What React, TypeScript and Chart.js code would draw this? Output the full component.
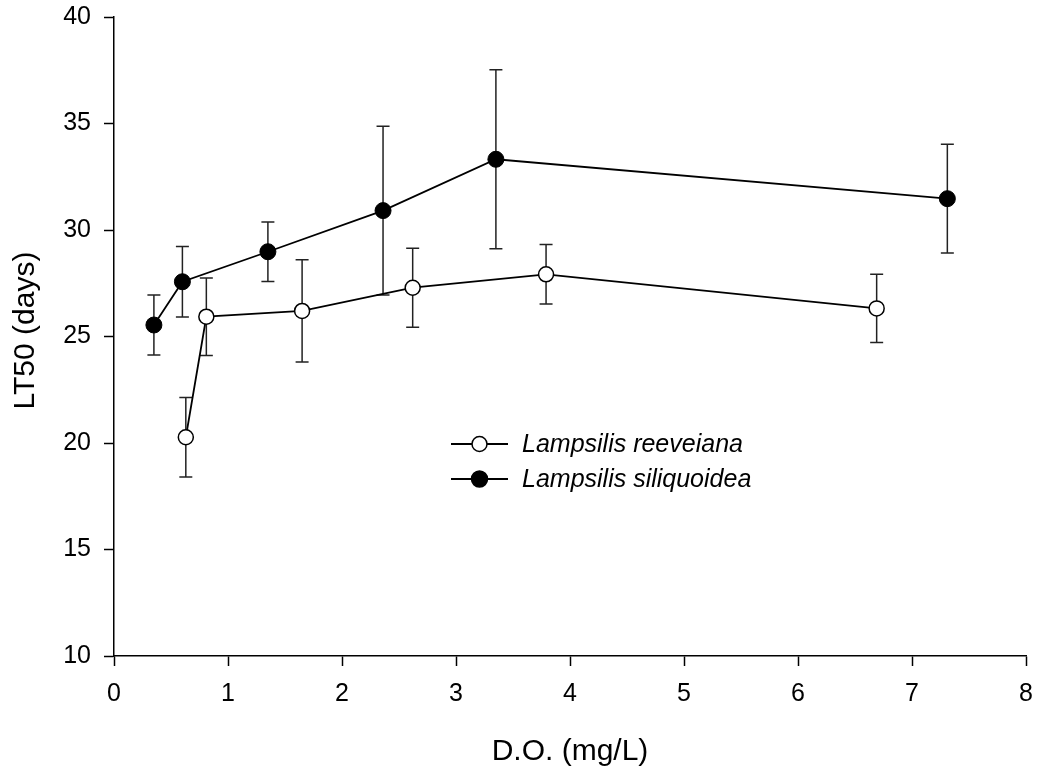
import React, { useEffect, useRef } from 'react';
import { Chart, registerables } from 'chart.js';

Chart.register(...registerables);

// ---- data ----
const seriesNames = ['Lampsilis reeveiana', 'Lampsilis siliquoidea'];
const reeveianaDO = [0.63, 0.81, 1.65, 2.62, 3.79, 6.69];
const reeveianaLT50 = [20.27, 25.93, 26.2, 27.29, 27.92, 26.32];
const reeveianaErr = [1.87, 1.82, 2.4, 1.85, 1.4, 1.6];
const siliquoideaDO = [0.35, 0.6, 1.35, 2.36, 3.35, 7.31];
const siliquoideaLT50 = [25.54, 27.57, 28.98, 30.91, 33.32, 31.47];
const siliquoideaErr = [1.41, 1.65, 1.4, 3.96, 4.2, 2.55];
const xTickValues = [0, 1, 2, 3, 4, 5, 6, 7, 8];
const yTickValues = [10, 15, 20, 25, 30, 35, 40];
const xTitle = 'D.O. (mg/L)';
const yTitle = 'LT50 (days)';

const FONT = '"Liberation Sans", Arial, Helvetica, sans-serif';

const errorBarPlugin = {
  id: 'errorBars',
  beforeDatasetsDraw(chart: any) {
    const { ctx, scales } = chart;
    const xs = scales.x;
    const ys = scales.y;
    chart.data.datasets.forEach((ds: any) => {
      const errs: number[] = ds.errors || [];
      ctx.save();
      ctx.strokeStyle = '#222';
      ctx.lineWidth = 1.5;
      ds.data.forEach((p: any, i: number) => {
        const e = errs[i];
        if (e == null) return;
        const px = xs.getPixelForValue(p.x);
        const top = ys.getPixelForValue(p.y + e);
        const bot = ys.getPixelForValue(p.y - e);
        ctx.beginPath();
        ctx.moveTo(px, top);
        ctx.lineTo(px, bot);
        ctx.moveTo(px - 6.5, top);
        ctx.lineTo(px + 6.5, top);
        ctx.moveTo(px - 6.5, bot);
        ctx.lineTo(px + 6.5, bot);
        ctx.stroke();
      });
      ctx.restore();
    });
  },
};

const decorPlugin = {
  id: 'decor',
  afterDraw(chart: any) {
    const { ctx } = chart;
    ctx.save();
    ctx.fillStyle = '#000';
    // x title
    ctx.font = `30px ${FONT}`;
    ctx.textAlign = 'center';
    ctx.textBaseline = 'alphabetic';
    ctx.fillText(xTitle, 570, 760);
    // y title
    ctx.save();
    ctx.translate(33.5, 330.5);
    ctx.rotate(-Math.PI / 2);
    ctx.fillText(yTitle, 0, 0);
    ctx.restore();

    // legend
    const rows = [
      { y: 444, fill: '#fff', r: 7.5 },
      { y: 479, fill: '#000', r: 8 },
    ];
    rows.forEach((row, i) => {
      ctx.strokeStyle = '#000';
      ctx.lineWidth = 1.8;
      ctx.beginPath();
      ctx.moveTo(451, row.y);
      ctx.lineTo(508, row.y);
      ctx.stroke();
      ctx.beginPath();
      ctx.arc(479.5, row.y, row.r, 0, Math.PI * 2);
      ctx.fillStyle = row.fill;
      ctx.fill();
      ctx.lineWidth = 1.5;
      ctx.stroke();
      ctx.fillStyle = '#000';
      ctx.font = `italic 25px ${FONT}`;
      ctx.textAlign = 'left';
      ctx.textBaseline = 'middle';
      ctx.fillText(seriesNames[i], 522, row.y + 1);
    });
    ctx.restore();
  },
};

export default function App() {
  const ref = useRef<HTMLCanvasElement | null>(null);
  useEffect(() => {
    if (!ref.current) return;
    const chart = new Chart(ref.current, {
      type: 'scatter',
      data: {
        datasets: [
          {
            label: seriesNames[0],
            data: reeveianaDO.map((x, i) => ({ x, y: reeveianaLT50[i] })),
            errors: reeveianaErr,
            showLine: true,
            borderColor: '#000',
            borderWidth: 1.8,
            pointBackgroundColor: '#fff',
            pointBorderColor: '#000',
            pointBorderWidth: 1.5,
            pointRadius: 7.5,
            pointHoverRadius: 7.5,
          } as any,
          {
            label: seriesNames[1],
            data: siliquoideaDO.map((x, i) => ({ x, y: siliquoideaLT50[i] })),
            errors: siliquoideaErr,
            showLine: true,
            borderColor: '#000',
            borderWidth: 1.8,
            pointBackgroundColor: '#000',
            pointBorderColor: '#000',
            pointBorderWidth: 1,
            pointRadius: 8,
            pointHoverRadius: 8,
          } as any,
        ],
      },
      options: {
        animation: false,
        responsive: false,
        events: [],
        layout: { padding: { left: 0, top: 17, right: 11, bottom: 0 } },
        plugins: {
          legend: { display: false },
          tooltip: { enabled: false },
        },
        scales: {
          x: {
            type: 'linear',
            min: 0,
            max: 8,
            afterBuildTicks: (s: any) => {
              s.ticks = xTickValues.map((v) => ({ value: v }));
            },
            afterFit: (s: any) => {
              s.height = 113;
              s.paddingLeft = 0;
              s.paddingRight = 0;
              s.paddingTop = 0;
              s.paddingBottom = 0;
            },
            ticks: {
              color: '#000',
              font: { size: 25, family: FONT },
              padding: 13,
              maxRotation: 0,
            },
            grid: {
              display: true,
              drawOnChartArea: false,
              drawTicks: true,
              tickLength: 10,
              color: '#000',
              tickWidth: 1.5,
            },
            border: { display: true, color: '#000', width: 1.5 },
          },
          y: {
            type: 'linear',
            min: 10,
            max: 40,
            afterBuildTicks: (s: any) => {
              s.ticks = yTickValues.map((v) => ({ value: v }));
            },
            afterFit: (s: any) => {
              s.width = 114;
              s.paddingLeft = 0;
              s.paddingRight = 0;
              s.paddingTop = 0;
              s.paddingBottom = 0;
            },
            ticks: {
              color: '#000',
              font: { size: 25, family: FONT },
              padding: 13,
            },
            grid: {
              display: true,
              drawOnChartArea: false,
              drawTicks: true,
              tickLength: 10,
              color: '#000',
              tickWidth: 1.5,
            },
            border: { display: true, color: '#000', width: 1.5 },
          },
        },
      } as any,
      plugins: [errorBarPlugin, decorPlugin],
    });
    return () => chart.destroy();
  }, []);
  return (
    <div style={{ position: 'fixed', left: 0, top: 0, width: 1037, height: 769, background: '#fff' }}>
      <canvas ref={ref} width={1037} height={769} style={{ width: 1037, height: 769 }} />
    </div>
  );
}
